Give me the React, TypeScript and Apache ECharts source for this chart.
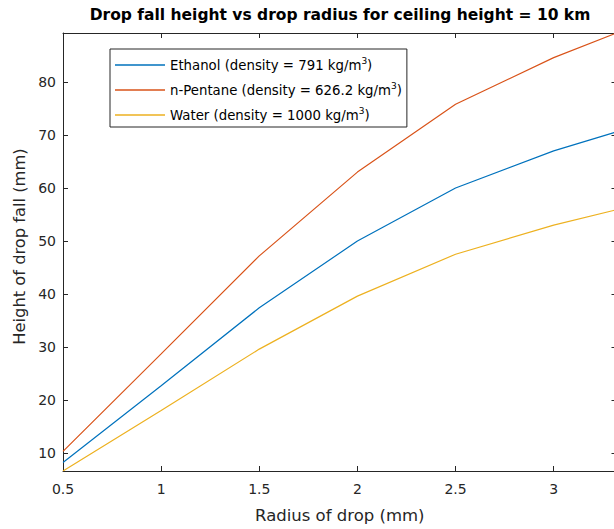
import React, { useEffect, useRef } from "react";
import * as echarts from "echarts";

// Drop radius (mm) and fall height (mm) for each liquid
const radius = [0.5, 1, 1.5, 2, 2.5, 3, 3.32];
const ethanol = [8.2, 22.7, 37.4, 50.0, 60.0, 67.0, 70.6];
const pentane = [10.3, 28.7, 47.2, 63.0, 75.8, 84.6, 89.25];
const water = [6.6, 18.0, 29.6, 39.6, 47.5, 53.0, 55.9];

const seriesNames = [
  "Ethanol (density = 791 kg/m3)",
  "n-Pentane (density = 626.2 kg/m3)",
  "Water (density = 1000 kg/m3)",
];
const seriesValues = [ethanol, pentane, water];
const seriesColors = ["#0072BD", "#D95319", "#EDB120"];

const xTicks = { min: 0.5, max: 3.32, interval: 0.5 };
const yRange = { min: 6.6, max: 89.25 };

const FONT = "DejaVu Sans";
const AXIS = "#262626";

export default function App() {
  const ref = useRef<HTMLDivElement>(null);

  useEffect(() => {
    if (!ref.current) return;
    const chart = echarts.init(ref.current, undefined, { renderer: "svg" });

    const tickStyle = { show: true, inside: true, length: 5, lineStyle: { color: AXIS, width: 1 } };
    const lineStyle = { show: true, lineStyle: { color: AXIS, width: 1 } };

    chart.setOption({
      animation: false,
      backgroundColor: "#ffffff",
      title: {
        text: "Drop fall height vs drop radius for ceiling height = 10 km",
        left: "center",
        top: 7,
        padding: 0,
        textStyle: { fontFamily: FONT, fontSize: 15.5, fontWeight: "bold", color: "#000000" },
      },
      legend: {
        left: 110,
        top: 49,
        orient: "vertical",
        padding: [7, 5, 3, 5],
        itemGap: 7,
        itemWidth: 50,
        itemHeight: 1.3,
        icon: "rect",
        backgroundColor: "#ffffff",
        borderColor: AXIS,
        borderWidth: 1,
        borderRadius: 0,
        formatter: (name: string) => name.replace(/m3\)$/, "m{sup|3})"),
        textStyle: {
          fontFamily: FONT,
          fontSize: 13.3,
          lineHeight: 18,
          color: "#000000",
          rich: {
            sup: { fontFamily: FONT, fontSize: 9, lineHeight: 10, verticalAlign: "top", color: "#000000" },
          },
        },
      },
      grid: { left: 63, top: 33, right: 63.5, bottom: 58, containLabel: false },
      xAxis: [
        {
          type: "value",
          position: "bottom",
          min: xTicks.min,
          max: xTicks.max,
          interval: xTicks.interval,
          axisLine: lineStyle,
          axisTick: tickStyle,
          splitLine: { show: false },
          axisLabel: {
            showMaxLabel: false,
            margin: 11,
            fontFamily: FONT,
            fontSize: 14,
            color: AXIS,
          },
          name: "Radius of drop (mm)",
          nameLocation: "middle",
          nameGap: 36,
          nameTextStyle: { fontFamily: FONT, fontSize: 16.5, color: AXIS },
        },
        {
          type: "value",
          position: "top",
          min: xTicks.min,
          max: xTicks.max,
          interval: xTicks.interval,
          axisLine: lineStyle,
          axisTick: tickStyle,
          splitLine: { show: false },
          axisLabel: { show: false },
        },
      ],
      yAxis: [
        {
          type: "value",
          position: "left",
          min: yRange.min,
          max: yRange.max,
          splitNumber: 8,
          axisLine: lineStyle,
          axisTick: tickStyle,
          splitLine: { show: false },
          axisLabel: {
            showMinLabel: false,
            showMaxLabel: false,
            margin: 7,
            fontFamily: FONT,
            fontSize: 14,
            color: AXIS,
          },
          name: "Height of drop fall (mm)",
          nameLocation: "middle",
          nameGap: 32,
          nameTextStyle: { fontFamily: FONT, fontSize: 16.3, color: AXIS, padding: [0, 0, 0, 11] },
        },
        {
          type: "value",
          position: "right",
          min: yRange.min,
          max: yRange.max,
          splitNumber: 8,
          axisLine: lineStyle,
          axisTick: tickStyle,
          splitLine: { show: false },
          axisLabel: { show: false },
        },
      ],
      series: seriesNames.map((name, i) => ({
        name,
        type: "line",
        xAxisIndex: 0,
        yAxisIndex: 0,
        showSymbol: false,
        symbol: "none",
        color: seriesColors[i],
        lineStyle: { color: seriesColors[i], width: 1.2 },
        data: radius.map((r, j) => [r, seriesValues[i][j]]),
      })),
    });

    return () => chart.dispose();
  }, []);

  return (
    <div
      ref={ref}
      style={{ position: "fixed", left: 0, top: 0, width: 680, height: 529, background: "#ffffff" }}
    />
  );
}
